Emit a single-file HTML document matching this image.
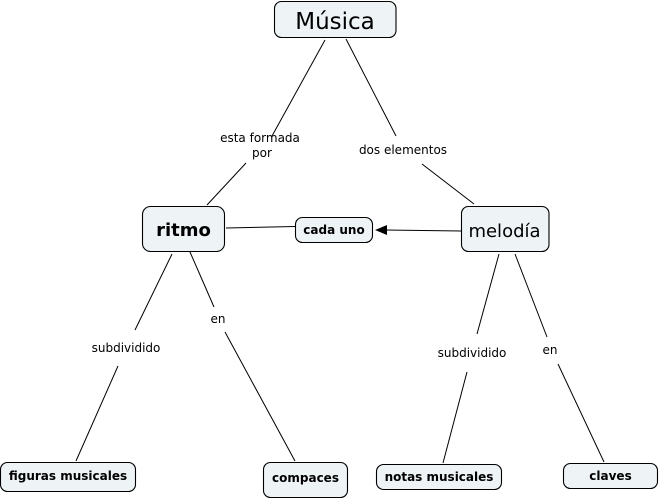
<!DOCTYPE html>
<html><head><meta charset="utf-8"><style>
html,body{margin:0;padding:0;background:#fff;width:659px;height:500px;overflow:hidden}
svg{display:block}
text{font-family:"DejaVu Sans",Verdana,sans-serif;fill:#000;text-anchor:middle}
.b{fill:#eef3f6;stroke:#000;stroke-width:1.1}
.l{stroke:#000;stroke-width:1;fill:none}
.c{font-size:12px}
.n{font-size:12px;font-weight:bold}
</style></head><body>
<svg width="659" height="500" viewBox="0 0 659 500" xmlns="http://www.w3.org/2000/svg">
<g class="l">
<line x1="325" y1="40" x2="272" y2="136"/>
<line x1="346" y1="39" x2="396" y2="136"/>
<line x1="246" y1="163" x2="207" y2="205"/>
<line x1="422" y1="164" x2="474" y2="204"/>
<line x1="226" y1="228" x2="295" y2="226.5"/>
<line x1="461" y1="231" x2="385" y2="230"/>
<line x1="172" y1="254" x2="135" y2="330"/>
<line x1="118" y1="366" x2="76" y2="461"/>
<line x1="190" y1="252" x2="214" y2="307"/>
<line x1="225" y1="332" x2="295" y2="461"/>
<line x1="499" y1="254" x2="477" y2="334"/>
<line x1="467" y1="372" x2="443" y2="463"/>
<line x1="515" y1="254" x2="547" y2="337"/>
<line x1="558" y1="364" x2="604" y2="462"/>
</g>
<polygon points="375,230 387,225 387,235" fill="#000"/>
<rect class="b" x="274.5" y="1.5" width="121.5" height="36" rx="7"/>
<rect class="b" x="142.5" y="206.5" width="82" height="45" rx="8"/>
<rect class="b" x="295.5" y="217.5" width="77" height="25" rx="7"/>
<rect class="b" x="461.5" y="206.5" width="87.5" height="45" rx="7"/>
<rect class="b" x="0.5" y="462.5" width="135" height="29" rx="7"/>
<rect class="b" x="263.5" y="462.5" width="84" height="35" rx="7"/>
<rect class="b" x="376.5" y="464.5" width="125" height="25" rx="7"/>
<rect class="b" x="563.5" y="463.5" width="94" height="25" rx="7"/>
<text x="335" y="29" font-size="23">Música</text>
<text x="183.5" y="236" font-size="18" font-weight="bold">ritmo</text>
<text x="334" y="234" class="n">cada uno</text>
<text x="504.5" y="237" font-size="18">melodía</text>
<text x="68" y="480" class="n">figuras musicales</text>
<text x="305.5" y="482" class="n">compaces</text>
<text x="439" y="481" class="n">notas musicales</text>
<text x="610.5" y="480" class="n">claves</text>
<text x="260" y="142" class="c">esta formada</text>
<text x="262" y="157" class="c">por</text>
<text x="403" y="154" class="c">dos elementos</text>
<text x="126" y="352" class="c">subdividido</text>
<text x="218" y="323" class="c">en</text>
<text x="472" y="357" class="c">subdividido</text>
<text x="550" y="354" class="c">en</text>
</svg>
</body></html>
